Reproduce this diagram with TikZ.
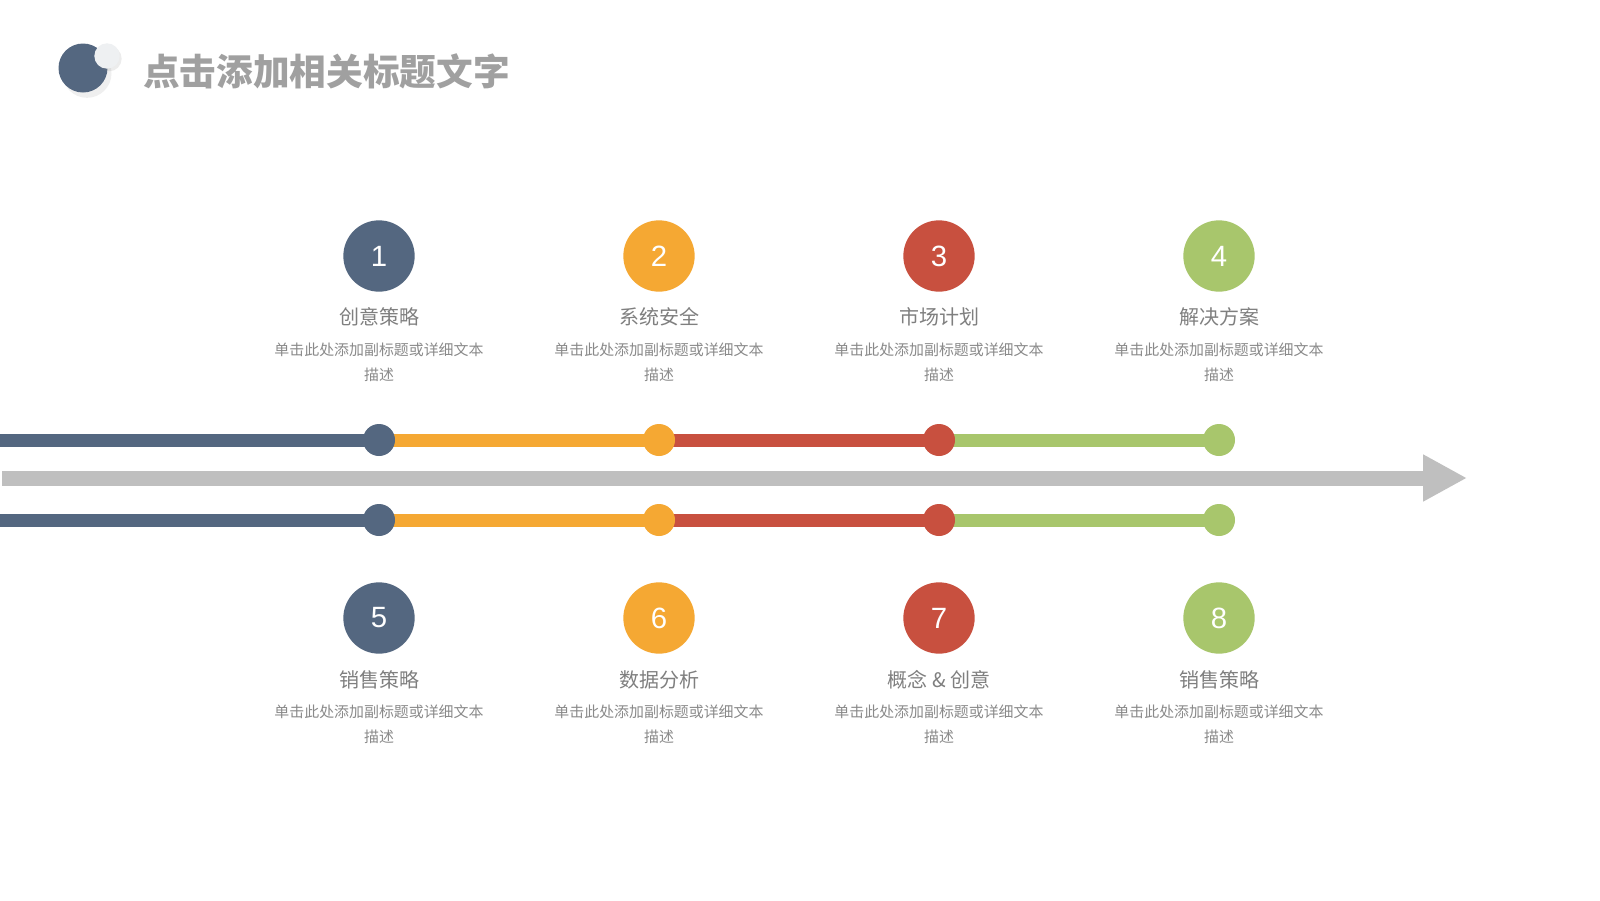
\documentclass[tikz,border=0pt]{standalone}
\usepackage{fontspec}
\setmainfont{Liberation Sans}
\newfontfamily\cjk{Noto Sans CJK SC}
\usetikzlibrary{positioning, arrows.meta, shadows}

\definecolor{slate}{HTML}{546780}
\definecolor{amber}{HTML}{F5A833}
\definecolor{brick}{HTML}{C8503F}
\definecolor{leaf}{HTML}{A8C66C}
\definecolor{axisgray}{HTML}{BFBFBF}
\definecolor{titlegray}{HTML}{A0A0A0}
\definecolor{headgray}{HTML}{7F7F7F}
\definecolor{descgray}{HTML}{8A8A8A}
\definecolor{iconlight}{HTML}{EEF0F2}

\tikzset{
  numcircle/.style={circle, minimum size=53.5pt, inner sep=0pt, text=white,
    font=\fontsize{22}{22}\selectfont},
  headtext/.style={inner sep=0pt, text=headgray, font=\cjk\fontsize{15}{15}\selectfont},
  desctext/.style={inner sep=0pt, align=center, text=descgray,
    font=\cjk\fontsize{11.2}{18.6}\selectfont},
  dot/.style={circle, minimum size=24pt, inner sep=0pt},
  seg/.style={line width=9.75pt},
}

\begin{document}
\begin{tikzpicture}[x=0.75pt, y=-0.75pt]
    \useasboundingbox[fill=white] (0,0) rectangle (1600,900);

    % Title
    \node (bigdot) [circle, fill=slate, minimum size=36.75pt, inner sep=0pt,
      drop shadow={shadow xshift=3pt, shadow yshift=-4pt, opacity=0.12}] at (83,68) {};
    \node (smalldot) [circle, fill=iconlight, minimum size=19pt, inner sep=0pt,
      drop shadow={shadow xshift=1.5pt, shadow yshift=-2pt, opacity=0.15}] at (107,56) {};
    \node (title) [anchor=west, inner sep=0pt, text=titlegray,
      font=\cjk\bfseries\fontsize{27.5}{27.5}\selectfont] at (143,71) {点击添加相关标题文字};

    % Axis
    \coordinate (axstart) at (2,478);
    \coordinate (axend) at (1467,478);
    \draw[axisgray, line width=11.25pt, -{Triangle[length=33pt, width=33pt]}] (axstart) -- (axend);

    % Top row
    \node (c1) [numcircle, fill=slate] at (379,256) {1};
    \node (c2) [numcircle, fill=amber] at (659,256) {2};
    \node (c3) [numcircle, fill=brick] at (939,256) {3};
    \node (c4) [numcircle, fill=leaf] at (1219,256) {4};
    \node (h1) [headtext] at (379,317) {创意策略};
    \node (h2) [headtext] at (659,317) {系统安全};
    \node (h3) [headtext] at (939,317) {市场计划};
    \node (h4) [headtext] at (1219,317) {解决方案};
    \foreach \i/\x in {1/379, 2/659, 3/939, 4/1219}
      \node (d\i) [desctext] at (\x,362) {单击此处添加副标题或详细文本\\描述};

    % Bottom row
    \node (c5) [numcircle, fill=slate] at (379,618) {5};
    \node (c6) [numcircle, fill=amber] at (659,618) {6};
    \node (c7) [numcircle, fill=brick] at (939,618) {7};
    \node (c8) [numcircle, fill=leaf] at (1219,618) {8};
    \node (h5) [headtext] at (379,680) {销售策略};
    \node (h6) [headtext] at (659,680) {数据分析};
    \node (h7) [headtext] at (939,680) {概念 \& 创意};
    \node (h8) [headtext] at (1219,680) {销售策略};
    \foreach \i/\x in {5/379, 6/659, 7/939, 8/1219}
      \node (d\i) [desctext] at (\x,724) {单击此处添加副标题或详细文本\\描述};

    % Timelines
    \coordinate (ta0) at (0,440);
    \coordinate (tb0) at (0,520);
    \foreach \i/\x in {1/379, 2/659, 3/939, 4/1219} {
      \coordinate (ta\i) at (\x,440);
      \coordinate (tb\i) at (\x,520);
    }
    \draw[seg, slate] (ta0) -- (ta1);
    \draw[seg, amber] (ta1) -- (ta2);
    \draw[seg, brick] (ta2) -- (ta3);
    \draw[seg, leaf] (ta3) -- (ta4);
    \draw[seg, slate] (tb0) -- (tb1);
    \draw[seg, amber] (tb1) -- (tb2);
    \draw[seg, brick] (tb2) -- (tb3);
    \draw[seg, leaf] (tb3) -- (tb4);
    \foreach \i/\col in {1/slate, 2/amber, 3/brick, 4/leaf} {
      \node (da\i) [dot, fill=\col] at (ta\i) {};
      \node (db\i) [dot, fill=\col] at (tb\i) {};
    }
\end{tikzpicture}
\end{document}
